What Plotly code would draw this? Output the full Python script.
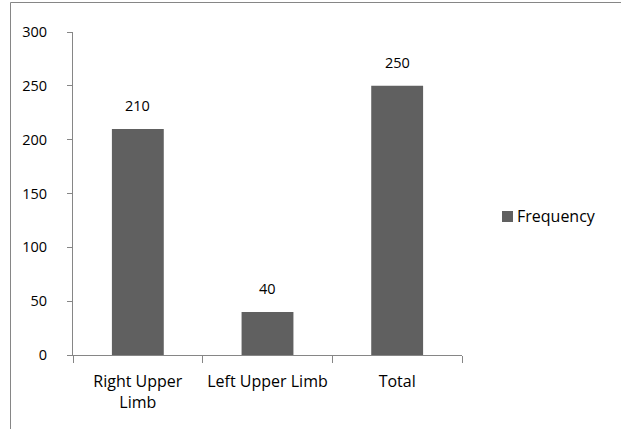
import plotly.graph_objects as go

categories = ["Right Upper<br>Limb", "Left Upper Limb", "Total"]
frequency = [210, 40, 250]
series_name = "Frequency"

W, H = 621, 429
L, R, T, B = 73, 159, 32, 74
pw, ph = W - L - R, H - T - B

axis_grey = "#868686"
bar_grey = "#606060"
font_family = "Open Sans, Noto Sans, sans-serif"
num_size = 14.5
word_size = 16


def px_x(x):
    return (x - L) / pw


def px_y(y):
    return (H - B - y) / ph


fig = go.Figure(
    go.Bar(
        x=categories,
        y=frequency,
        name=series_name,
        marker=dict(color=bar_grey, line=dict(width=0)),
        width=0.4,
        showlegend=False,
    )
)

# Value labels above each bar
for cat, val in zip(categories, frequency):
    fig.add_annotation(
        x=cat,
        y=val,
        text=str(val),
        showarrow=False,
        yanchor="bottom",
        yshift=12,
        font=dict(size=num_size, color="#000000", family=font_family),
    )

fig.update_layout(
    width=W,
    height=H,
    margin=dict(l=L, r=R, t=T, b=B, autoexpand=False),
    paper_bgcolor="white",
    plot_bgcolor="white",
    font=dict(family=font_family, size=num_size, color="#000000"),
    bargap=0.6,
    showlegend=False,
    xaxis=dict(
        type="category",
        showline=True,
        linecolor=axis_grey,
        linewidth=1,
        ticks="outside",
        tickson="boundaries",
        ticklen=7,
        tickcolor=axis_grey,
        showgrid=False,
        tickfont=dict(size=word_size),
        ticklabelstandoff=12,
    ),
    yaxis=dict(
        range=[0, 300],
        tickmode="linear",
        tick0=0,
        dtick=50,
        showline=True,
        linecolor=axis_grey,
        linewidth=1,
        ticks="outside",
        ticklen=5,
        tickcolor=axis_grey,
        showgrid=False,
        zeroline=False,
        tickfont=dict(size=num_size),
        ticklabelstandoff=17,
    ),
)

# Legend key: grey square followed by the series name
fig.add_shape(
    type="rect",
    xref="paper",
    yref="paper",
    x0=px_x(502),
    x1=px_x(513),
    y0=px_y(222),
    y1=px_y(211),
    line=dict(width=0),
    fillcolor=bar_grey,
)
fig.add_annotation(
    xref="paper",
    yref="paper",
    x=px_x(515),
    y=px_y(216.5),
    xanchor="left",
    yanchor="middle",
    text=series_name,
    showarrow=False,
    font=dict(size=word_size, color="#000000", family=font_family),
)

# Outer chart frame (top and left edges visible, the rest runs off the page)
fig.add_shape(
    type="rect",
    xref="paper",
    yref="paper",
    x0=px_x(10.5),
    x1=px_x(W + 20),
    y0=px_y(H + 20),
    y1=px_y(2.5),
    line=dict(color=axis_grey, width=1),
    fillcolor="rgba(0,0,0,0)",
    layer="below",
)

fig.write_html("out.html")
